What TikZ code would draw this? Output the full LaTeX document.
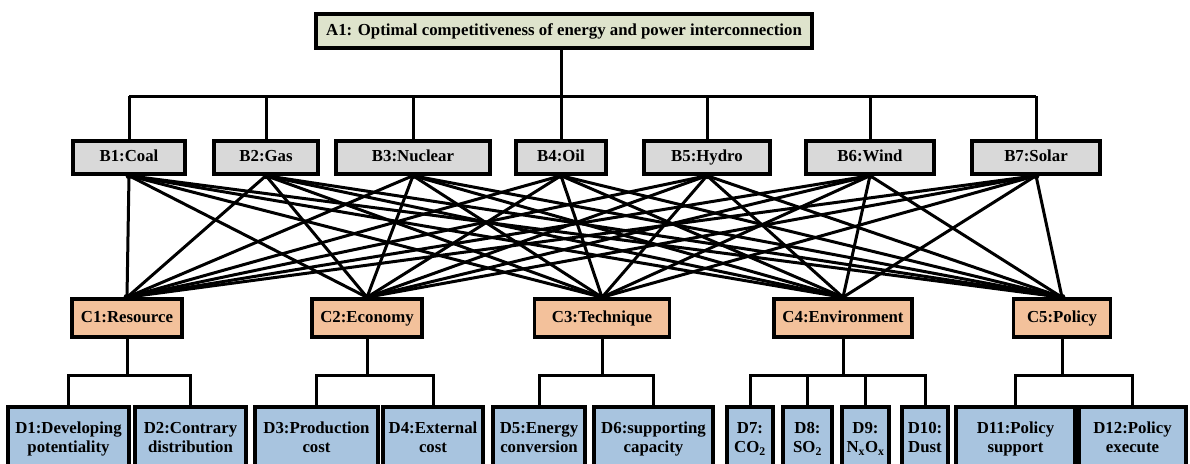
\documentclass[tikz,border=0pt]{standalone}
\usepackage{fontspec}
\setmainfont{Liberation Serif}
\definecolor{aFill}{HTML}{DEE3CC}
\definecolor{bFill}{HTML}{D9D9D9}
\definecolor{cFill}{HTML}{F3C19B}
\definecolor{dFill}{HTML}{A8C4DF}
\begin{document}
\begin{tikzpicture}[x=1pt,y=-1pt,
  box/.style={draw=black, line width=3.4pt, inner sep=0pt, align=center,
    font=\bfseries\fontsize{16.8}{19.5}\selectfont},
  onel/.style={text height=11.8pt, text depth=3.6pt},
  abox/.style={box, onel, fill=aFill, minimum height=34pt},
  bbox/.style={box, onel, fill=bFill, minimum height=33pt},
  cbox/.style={box, onel, fill=cFill, minimum height=38pt},
  dbox/.style={box, fill=dFill, minimum height=64pt, text height=31.3pt, text depth=3.6pt},
  conn/.style={line width=3pt},
  dot/.style={fill=black}]
\clip (0,0) rectangle (1190,463);
\fill[white] (0,0) rectangle (1190,463);

\node[abox, minimum width=496pt] (A1) at (564,31) {A1: Optimal competitiveness of energy and power interconnection};

\node[bbox, minimum width=112pt] (B1) at (129,157.5) {B1:Coal};
\node[bbox, minimum width=104pt] (B2) at (266,157.5) {B2:Gas};
\node[bbox, minimum width=154pt] (B3) at (413,157.5) {B3:Nuclear};
\node[bbox, minimum width=90pt]  (B4) at (561,157.5) {B4:Oil};
\node[bbox, minimum width=126pt] (B5) at (707,157.5) {B5:Hydro};
\node[bbox, minimum width=128pt] (B6) at (870,157.5) {B6:Wind};
\node[bbox, minimum width=128pt] (B7) at (1036,157.5) {B7:Solar};

\node[cbox, minimum width=110pt] (C1) at (127,318) {C1:Resource};
\node[cbox, minimum width=110pt] (C2) at (367,318) {C2:Economy};
\node[cbox, minimum width=135pt] (C3) at (602,318) {C3:Technique};
\node[cbox, minimum width=138pt] (C4) at (843,318) {C4:Environment};
\node[cbox, minimum width=97pt]  (C5) at (1062,318) {C5:Policy};

\node[dbox, minimum width=121pt] (D1) at (68.5,439) {D1:Developing\\potentiality};
\node[dbox, minimum width=111pt] (D2) at (190.5,439) {D2:Contrary\\distribution};
\node[dbox, minimum width=123pt] (D3) at (316.5,439) {D3:Production\\cost};
\node[dbox, minimum width=100pt] (D4) at (433,439) {D4:External\\cost};
\node[dbox, minimum width=92pt]  (D5) at (539,439) {D5:Energy\\conversion};
\node[dbox, minimum width=119pt] (D6) at (653.5,439) {D6:supporting\\capacity};
\node[dbox, minimum width=46pt]  (D7) at (750,439) {D7:\\CO\textsubscript{2}};
\node[dbox, minimum width=49pt]  (D8) at (807.5,439) {D8:\\SO\textsubscript{2}};
\node[dbox, minimum width=47pt]  (D9) at (865.5,439) {D9:\\N\textsubscript{x}O\textsubscript{x}};
\node[dbox, minimum width=46pt]  (D10) at (925,439) {D10:\\Dust};
\node[dbox, minimum width=119pt] (D11) at (1015.5,439) {D11:Policy\\support};
\node[dbox, minimum width=107pt] (D12) at (1132.5,439) {D12:Policy\\execute};

% top tree
\coordinate (bus) at (0,96);
\draw[conn] (A1.south -| B4.north) -- (B4.north |- bus);
\draw[conn] (B1.north |- bus) -- (B7.north |- bus);
\foreach \b in {1,...,7} \draw[conn] (B\b.north) -- (B\b.north |- bus);

% full B-C connections
\foreach \b in {1,...,7}
  \foreach \c in {1,...,5}
    \draw[conn] (B\b.south) -- (C\c.north);
\foreach \b in {1,...,7} \fill[dot] (B\b.south) circle (3.5pt);
\foreach \c in {1,...,5} \fill[dot] (C\c.north) circle (3.5pt);

% C-D trees
\coordinate (dbus) at (0,375);
\foreach \c in {1,...,5} \draw[conn] (C\c.south) -- (C\c.south |- dbus);
\draw[conn] (D1.north) -- (D1.north |- dbus) -- (D2.north |- dbus) -- (D2.north);
\draw[conn] (D3.north) -- (D3.north |- dbus) -- (D4.north |- dbus) -- (D4.north);
\draw[conn] (D5.north) -- (D5.north |- dbus) -- (D6.north |- dbus) -- (D6.north);
\draw[conn] (D7.north) -- (D7.north |- dbus) -- (D10.north |- dbus) -- (D10.north);
\draw[conn] (D8.north) -- (D8.north |- dbus);
\draw[conn] (D9.north) -- (D9.north |- dbus);
\draw[conn] (D11.north) -- (D11.north |- dbus) -- (D12.north |- dbus) -- (D12.north);
\end{tikzpicture}
\end{document}
